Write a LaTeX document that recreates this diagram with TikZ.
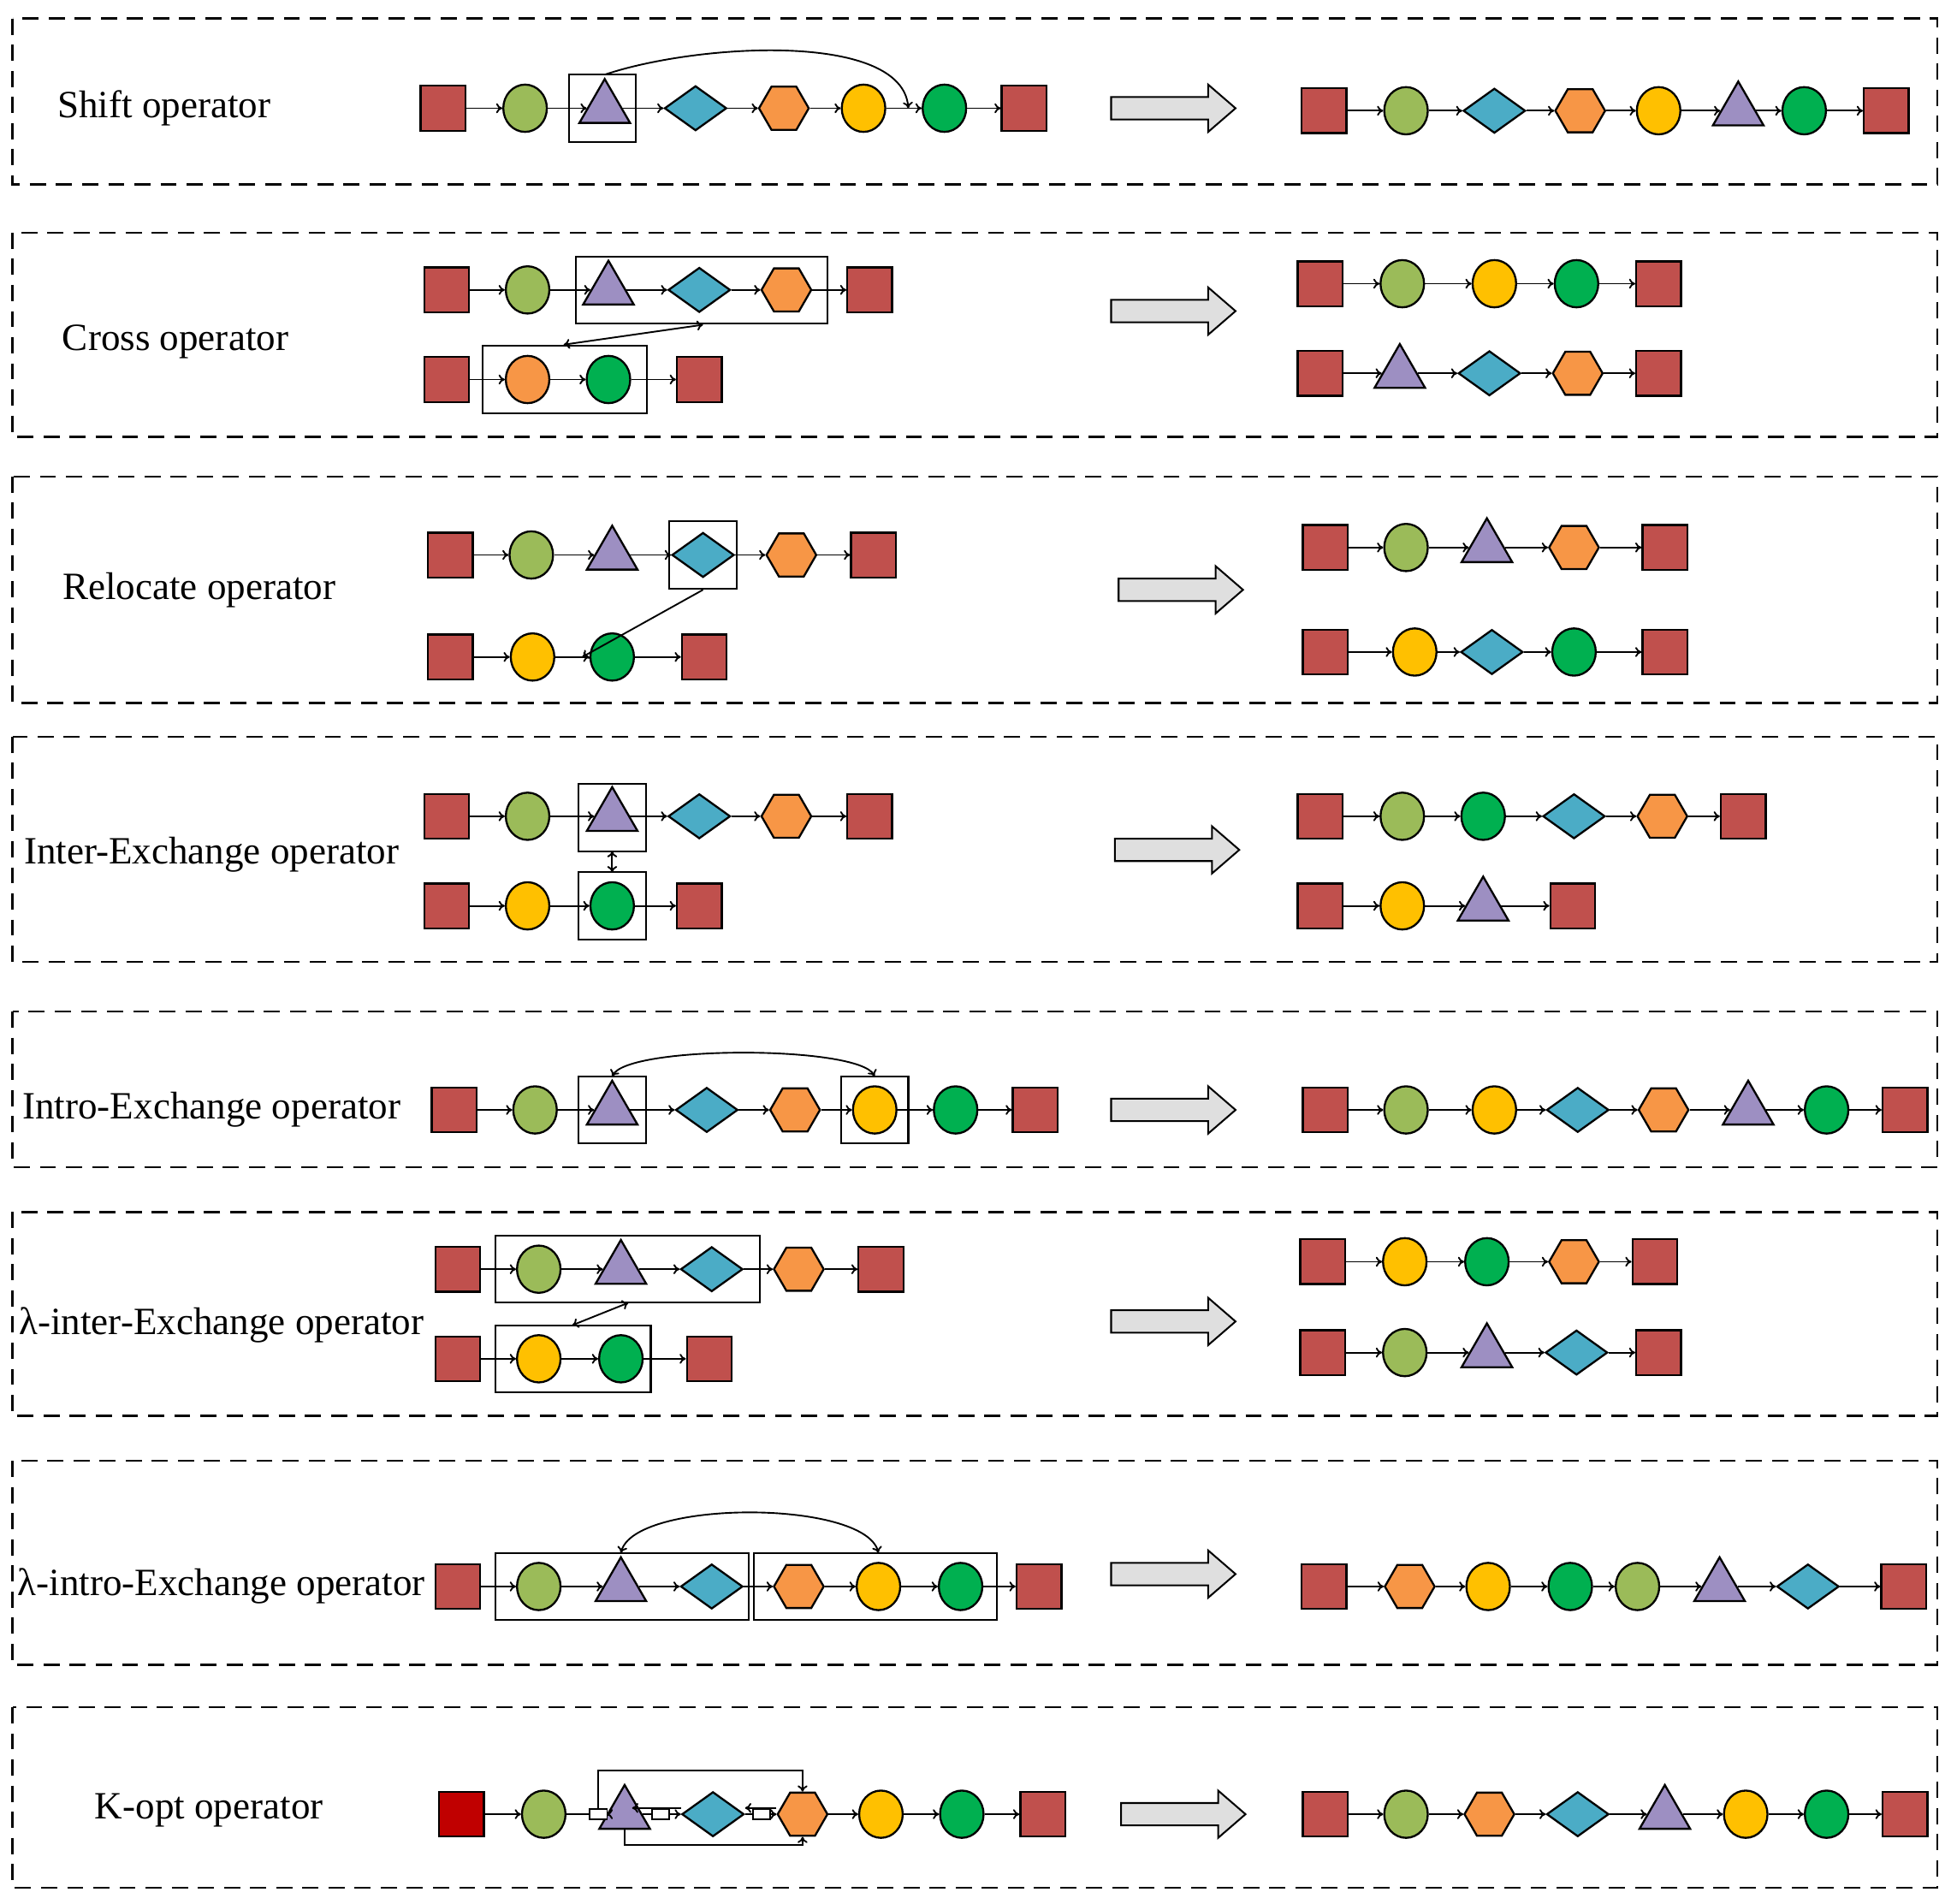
\documentclass[tikz,border=0pt]{standalone}
\usepackage{fontspec}
\setmainfont{Liberation Serif}
\usetikzlibrary{shapes.geometric,arrows.meta}
\definecolor{cR}{HTML}{C0504D}\definecolor{cDR}{HTML}{C00000}
\definecolor{cO}{HTML}{9BBB59}\definecolor{cP}{HTML}{9D8FC2}
\definecolor{cB}{HTML}{4BACC6}\definecolor{cH}{HTML}{F79646}
\definecolor{cY}{HTML}{FFC000}\definecolor{cG}{HTML}{00B050}
\tikzset{
 base/.style={draw=black,line width=1.6pt,inner sep=0pt},
 sq/.style={base,rectangle,fill=cR,minimum width=36pt,minimum height=36pt},
 dsq/.style={sq,fill=cDR},
 ci/.style={base,ellipse,minimum width=35pt,minimum height=38pt},
 oc/.style={ci,fill=cO}, yc/.style={ci,fill=cY}, gc/.style={ci,fill=cG}, hc/.style={ci,fill=cH},
 tr/.style={base,regular polygon,regular polygon sides=3,minimum size=47pt,fill=cP},
 di/.style={base,diamond,minimum width=50pt,minimum height=36pt,fill=cB},
 hx/.style={base,regular polygon,regular polygon sides=6,minimum size=40pt,fill=cH},
 con/.style={line width=1.3pt,-{To[length=5pt,width=8pt]}},
 dcon/.style={line width=1.3pt,{To[length=5pt,width=8pt]}-{To[length=5pt,width=8pt]}},
 sel/.style={draw,line width=1.4pt},
 panel/.style={draw,line width=1.8pt,dash pattern=on 13pt off 8pt},
 garr/.style={draw,line width=1.4pt,fill=gray!25,line join=miter},
 lab/.style={font=\fontsize{31}{36}\selectfont},
 sb/.style={draw,line width=1.2pt,fill=white,minimum width=14pt,minimum height=8pt,inner sep=0pt}
}
\newcommand\shp[3]{\node[#1] (#2) at (#3) {};}
\newcommand\seq[3]{%
 \foreach \t/\x [count=\i] in {#3}{\expandafter\shp\expandafter{\t}{#1\i}{\x,#2}}%
 \foreach \t/\x [count=\i] in {#3}{\ifnum\i>1 \pgfmathtruncatemacro\j{\i-1}\draw[con] (#1\j) -- (#1\i);\fi}}
\newcommand\garrow[2]{\draw[garr] (#1-50,#2-9) -- (#1+28,#2-9) -- (#1+28,#2-19) -- (#1+50,#2) -- (#1+28,#2+19) -- (#1+28,#2+9) -- (#1-50,#2+9) -- cycle;}
\begin{document}
\begin{tikzpicture}[x=1pt,y=-1pt]
\useasboundingbox (0,0) rectangle (1568,1530);
\foreach \a/\b in {15/148,187/351,383/565,592/773,813/938,974/1138,1174/1338,1372/1517}
 \draw[panel] (10,\a) rectangle (1557,\b);
\node[lab] (l1) at (132,87) {Shift operator};
\node[lab] (l2) at (141,275) {Cross operator};
\node[lab] (l3) at (160,474) {Relocate operator};
\node[lab] (l4) at (170,687) {Inter-Exchange operator};
\node[lab] (l5) at (170,892) {Intro-Exchange operator};
\node[lab] (l6) at (178,1065) {λ-inter-Exchange operator};
\node[lab] (l7) at (178,1275) {λ-intro-Exchange operator};
\node[lab] (l8) at (168,1455) {K-opt operator};
\garrow{943}{87}
\garrow{943}{250}
\garrow{949}{474}
\garrow{946}{683}
\garrow{943}{892}
\garrow{943}{1062}
\garrow{943}{1265}
\garrow{951}{1458}
% row 1
\seq{a}{87}{sq/356,oc/422,tr/486,di/559,hx/630,yc/694,gc/759,sq/823}
\draw[sel] (457,60) rectangle (511,114);
\coordinate (a0) at (486,60);
\coordinate (ae) at (730,87);
\draw[con] (a0) .. controls (560,35) and (725,25) .. (ae);
\seq{ar}{89}{sq/1064,oc/1130,di/1201,hx/1270,yc/1333,tr/1397,gc/1450,sq/1516}
% row 2
\seq{b}{233}{sq/359,oc/424,tr/489,di/562,hx/632,sq/699}
\draw[sel] (463,206) rectangle (665,260);
\seq{c}{305}{sq/359,hc/424,gc/489,sq/562}
\draw[sel] (388,278) rectangle (520,332);
\coordinate (b0) at (565,261); \coordinate (c0) at (453,277);
\draw[dcon] (c0) -- (b0);
\seq{br}{228}{sq/1061,oc/1127,yc/1201,gc/1267,sq/1333}
\seq{cr}{300}{sq/1061,tr/1125,di/1197,hx/1268,sq/1333}
% row 3
\seq{d}{446}{sq/362,oc/427,tr/492,di/565,hx/636,sq/702}
\draw[sel] (538,419) rectangle (592,473);
\seq{e}{528}{sq/362,yc/428,gc/492,sq/566}
\coordinate (d0) at (565,474); \coordinate (e0) at (468,528);
\draw[con] (d0) -- (e0);
\seq{dr}{440}{sq/1065,oc/1130,tr/1195,hx/1265,sq/1338}
\seq{er}{524}{sq/1065,yc/1137,di/1199,gc/1265,sq/1338}
% row 4
\seq{f}{656}{sq/359,oc/424,tr/492,di/562,hx/632,sq/699}
\draw[sel] (465,630) rectangle (519,684);
\seq{h}{728}{sq/359,yc/424,gc/492,sq/562}
\draw[sel] (465,701) rectangle (519,755);
\coordinate (f0) at (492,684); \coordinate (h0) at (492,701);
\draw[dcon] (f0) -- (h0);
\seq{fr}{656}{sq/1061,oc/1127,gc/1192,di/1265,hx/1336,sq/1401}
\seq{hr}{728}{sq/1061,yc/1127,tr/1192,sq/1264}
% row 5
\seq{m}{892}{sq/365,oc/430,tr/492,di/568,hx/639,yc/703,gc/768,sq/832}
\draw[sel] (465,865) rectangle (519,919);
\draw[sel] (676,865) rectangle (730,919);
\coordinate (m0) at (492,865); \coordinate (me) at (703,865);
\draw[dcon] (m0) .. controls (505,840) and (690,840) .. (me);
\seq{mr}{892}{sq/1065,oc/1130,yc/1201,di/1268,hx/1337,tr/1405,gc/1468,sq/1531}
% row 6
\seq{n}{1020}{sq/368,oc/433,tr/499,di/572,hx/642,sq/708}
\draw[sel] (398,993) rectangle (611,1047);
\seq{p}{1092}{sq/368,yc/433,gc/499,sq/570}
\draw[sel] (398,1065) rectangle (523,1119);
\coordinate (n0) at (505,1047); \coordinate (p0) at (460,1065);
\draw[dcon] (p0) -- (n0);
\seq{nr}{1014}{sq/1063,yc/1129,gc/1195,hx/1265,sq/1330}
\seq{pr}{1087}{sq/1063,oc/1129,tr/1195,di/1267,sq/1333}
% row 7
\seq{q}{1275}{sq/368,oc/433,tr/499,di/572,hx/642,yc/706,gc/772,sq/835}
\draw[sel] (398,1248) rectangle (602,1302);
\draw[sel] (606,1248) rectangle (801,1302);
\coordinate (q0) at (499,1248); \coordinate (qe) at (706,1248);
\draw[dcon] (q0) .. controls (510,1205) and (695,1205) .. (qe);
\seq{qr}{1275}{sq/1064,hx/1133,yc/1196,gc/1262,oc/1316,tr/1382,di/1453,sq/1530}
% row 8 (K-opt)
\node[dsq] (k1) at (371,1458) {};
\node[oc] (k2) at (437,1458) {};
\node[tr] (k3) at (502,1458) {};
\node[di] (k4) at (573,1458) {};
\node[hx] (k5) at (645,1458) {};
\node[yc] (k6) at (708,1458) {};
\node[gc] (k7) at (773,1458) {};
\node[sq] (k8) at (838,1458) {};
\node[sb] (ka) at (481,1458) {};
\node[sb] (kb) at (531,1458) {};
\node[sb] (kc) at (612,1458) {};
\draw[con] (k1) -- (k2);
\draw[line width=1.3pt] (k2) -- (ka);
\draw[con] (ka) -- (k3);
\draw[line width=1.3pt] (k3) -- (kb);
\draw[con] (kb) -- (k4);
\draw[line width=1.3pt] (k4) -- (kc);
\draw[con] (kc) -- (k5);
\draw[con] (k5) -- (k6);
\draw[con] (k6) -- (k7);
\draw[con] (k7) -- (k8);
\draw[con] ([yshift=5pt]k5.west) -- ([yshift=5pt]k4.east);
\draw[con] ([yshift=5pt]k4.west) -- ([xshift=6pt,yshift=5pt]k3.center);
\draw[con] (ka.north) -- (ka.north |- 0,1423) -| (k5.north);
\draw[con] (k3.south) -- (k3.south |- 0,1483) -| (k5.south);
\seq{kr}{1458}{sq/1065,oc/1130,hx/1197,di/1268,tr/1338,yc/1403,gc/1468,sq/1531}
\end{tikzpicture}
\end{document}
